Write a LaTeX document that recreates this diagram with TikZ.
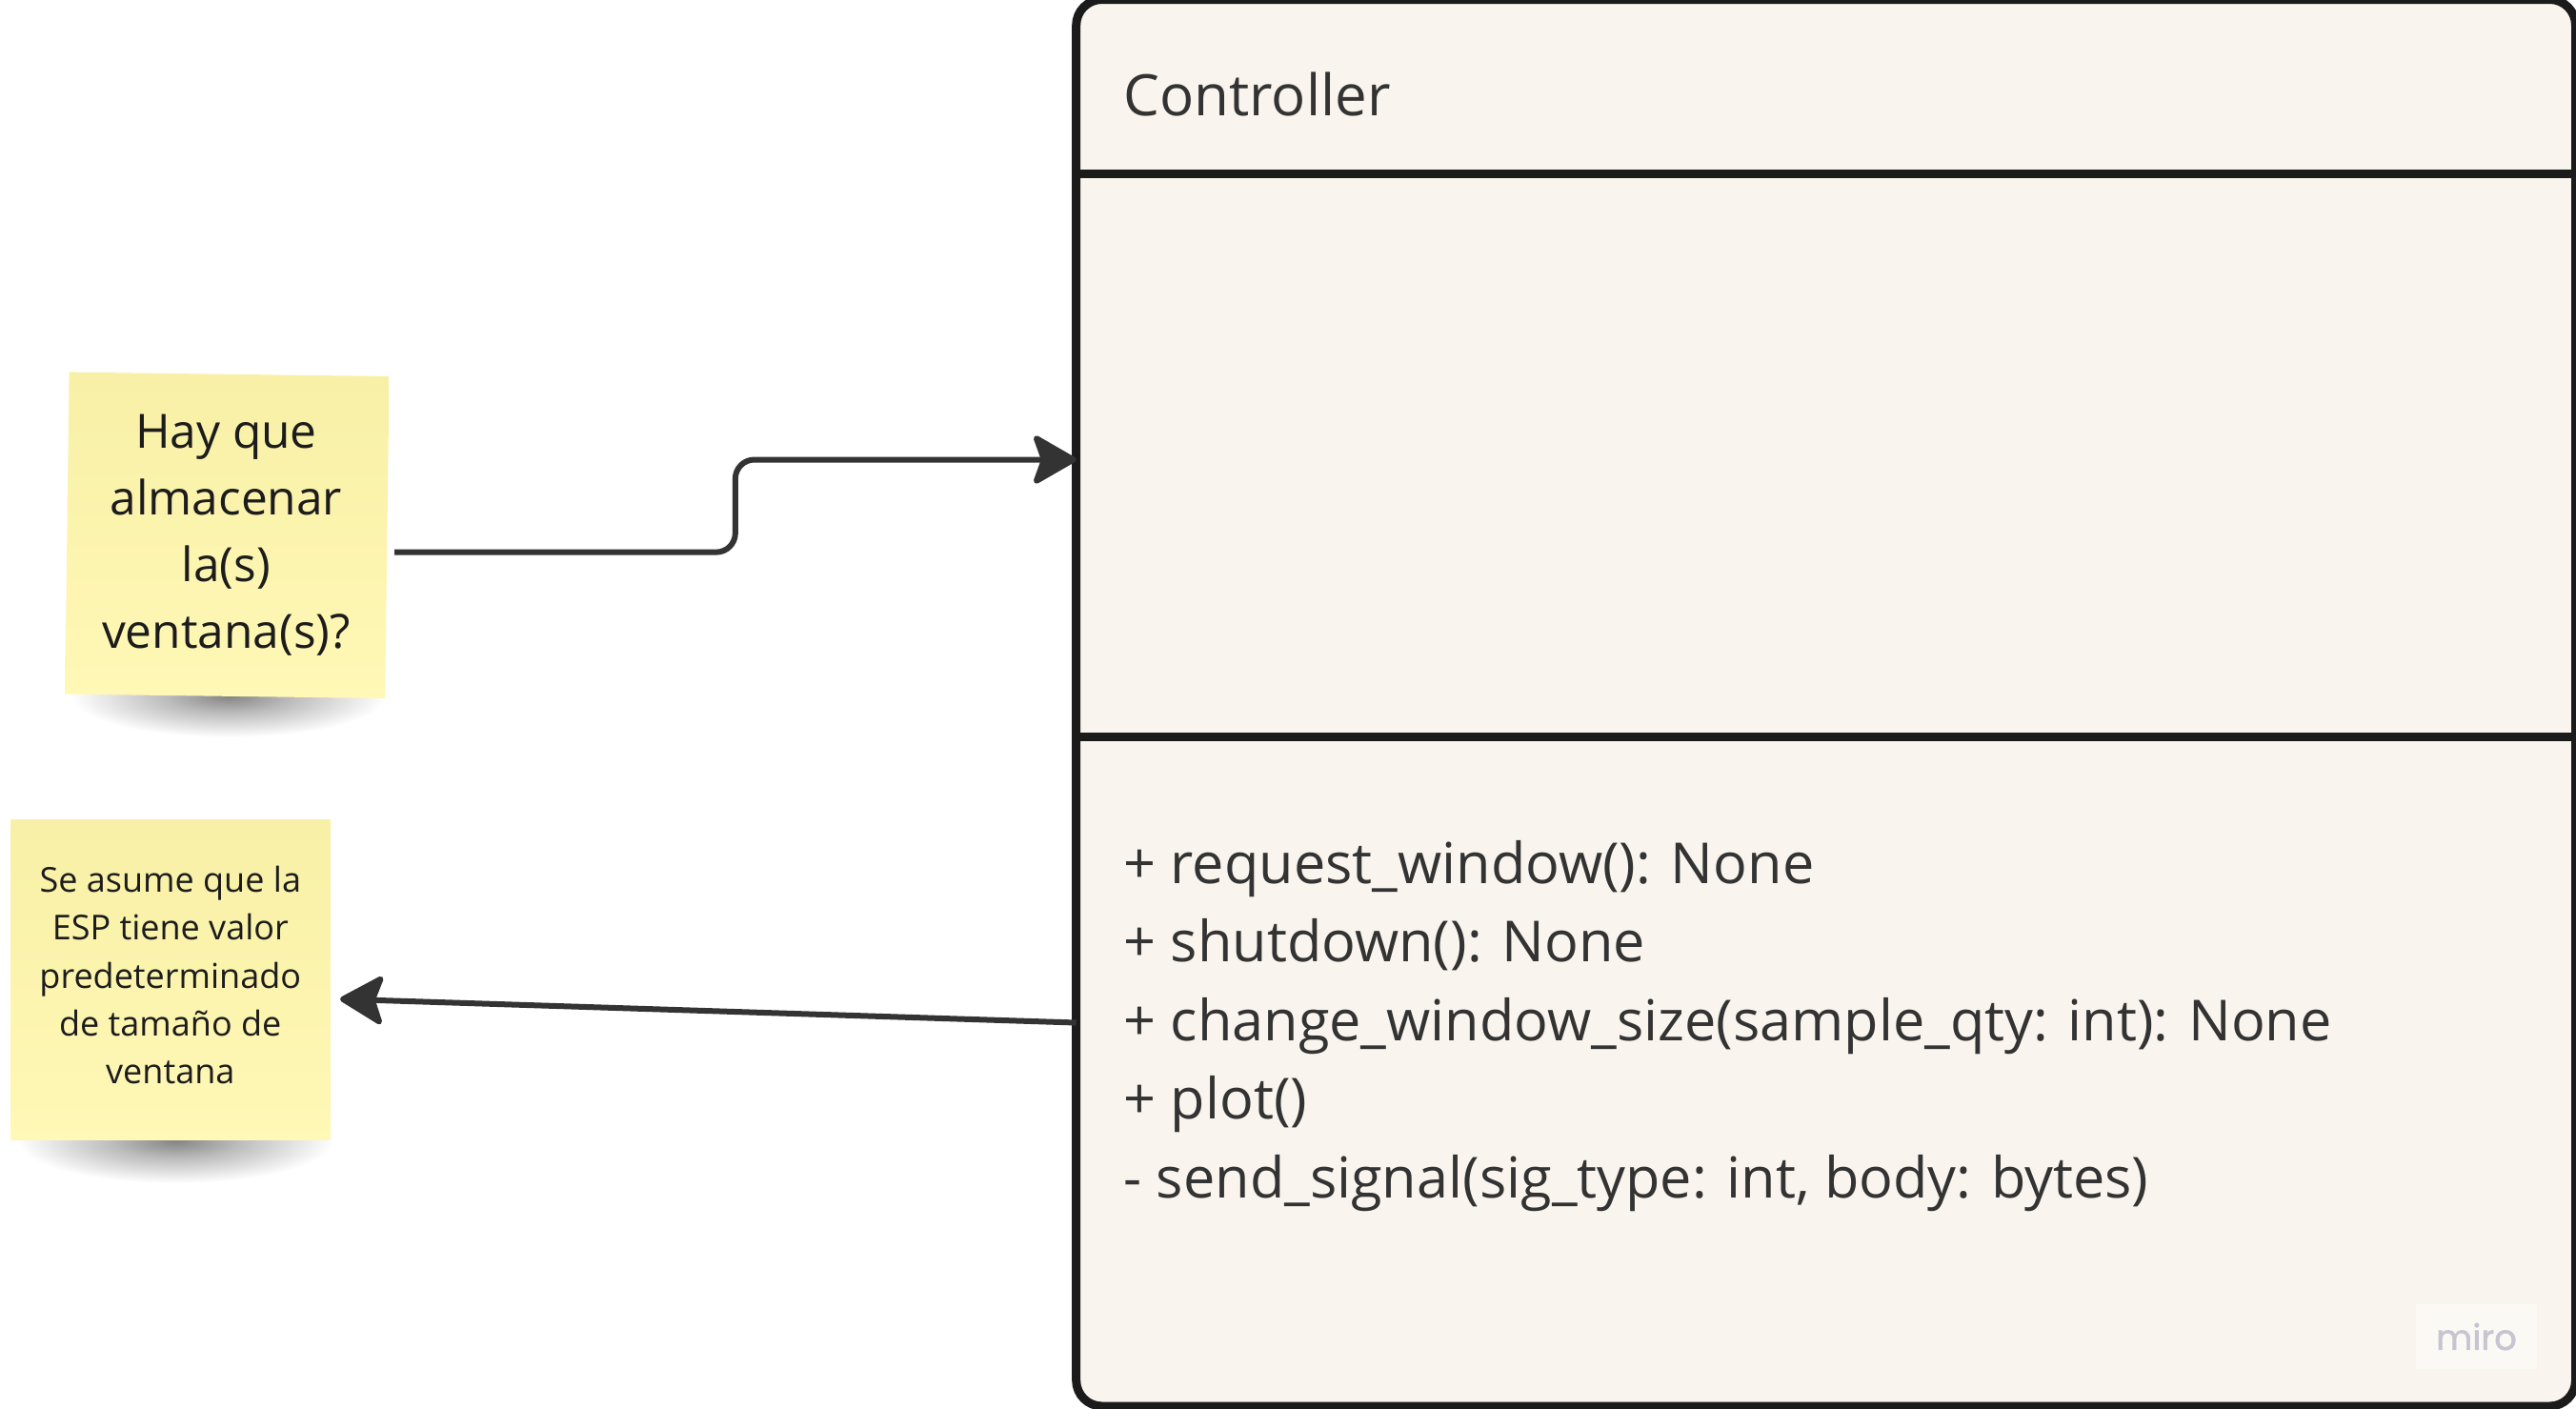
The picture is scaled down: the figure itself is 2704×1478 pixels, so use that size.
\documentclass[tikz,border=0pt]{standalone}
\usepackage{fontspec}
\setmainfont{Open Sans}
\newfontfamily\mirofont{Poppins}[FakeBold=1.5]
\usetikzlibrary{arrows.meta,calc}
\definecolor{boxfill}{HTML}{F9F5EE}
\definecolor{boxline}{HTML}{1B1B1B}
\definecolor{txt}{HTML}{333333}
\definecolor{notetxt}{HTML}{1C1C1C}
\definecolor{noteA}{HTML}{F8F0A6}
\definecolor{noteB}{HTML}{FFF8B6}
\definecolor{arrowc}{HTML}{333333}
\definecolor{shc}{HTML}{858585}
\definecolor{mirobg}{HTML}{FBF9F4}
\definecolor{mirotxt}{HTML}{C8C5D2}
\pgfdeclareradialshading{noteshadow}{\pgfpoint{0bp}{0bp}}{color(0bp)=(shc); color(10bp)=(shc!55!white); color(25bp)=(white); color(50bp)=(white)}
\begin{document}
\begin{tikzpicture}[x=0.5pt,y=-0.5pt,
  classbox/.style={draw=boxline, line width=4.5pt, fill=boxfill, rounded corners=13.5pt, inner sep=0pt, outer sep=0pt},
  divider/.style={draw=boxline, line width=4.5pt},
  classtext/.style={anchor=base west, inner sep=0pt, text=txt, font=\fontsize{30}{36}\selectfont},
  methodtext/.style={classtext, font=\fontsize{29.7}{36}\selectfont},
  note/.style={top color=noteA, bottom color=noteB, inner sep=0pt, outer sep=0pt},
  notetext/.style={inner sep=0pt, align=center, text=notetxt},
  conn/.style={draw=arrowc, line width=3pt, -{Stealth[length=25pt, width=28.5pt, inset=5pt, round]}},
  wmark/.style={fill=mirobg, text=mirotxt, inner sep=0pt, font=\mirofont\fontsize{18.5}{20}\selectfont}
]
\useasboundingbox (0,0) rectangle (2704,1478);
\fill[white] (0,0) rectangle (2704,1478);

% shadows of the sticky notes
\shade[shading=noteshadow] (75,688) rectangle (405,774);
\shade[shading=noteshadow] (18,1154) rectangle (350,1242);

% class box
\node[classbox, minimum width=786.9pt, minimum height=738.25pt] (ctrl) at (1916.6,737.75) {};
\draw[divider] (ctrl.west |- 0,182) -- (ctrl.east |- 0,182);
\draw[divider] (ctrl.west |- 0,773) -- (ctrl.east |- 0,773);
\node[classtext] (title) at (1179,121.7) {Controller};
\node[methodtext] (m1) at (1179,927) {+ request\_window(): None};
\node[methodtext] (m2) at (1179,1009.5) {+ shutdown(): None};
\node[methodtext] (m3) at (1179,1092) {+ change\_window\_size(sample\_qty: int): None};
\node[methodtext] (m4) at (1179,1174.5) {+ plot()};
\node[methodtext] (m5) at (1179,1257) {- send\_signal(sig\_type: int, body: bytes)};

% sticky notes
\node[note, rotate=-0.75, minimum width=168pt, minimum height=169pt] (n1) at (238.4,561.8) {};
\node[notetext, font=\fontsize{24.8}{35}\selectfont] (t1) at ($(n1.center)+(-1,0)$)
  {Hay que\\almacenar\\la(s)\\ventana(s)?};
\node[note, minimum width=167.5pt, minimum height=168pt] (n2) at (178.8,1028) {};
\node[notetext, font=\fontsize{18}{25.2}\selectfont] (t2) at ($(n2.center)+(0,-4.5)$)
  {Se asume que la\\ESP tiene valor\\predeterminado\\de tamaño de\\ventana};

% connectors
\coordinate (a1s) at (414,579.6);
\coordinate (a1e) at (ctrl.west |- 0,482.5);
\draw[conn, rounded corners=10pt] (a1s) -| ($(a1s)!.5!(a1e)$) |- (a1e);
\coordinate (a2s) at (ctrl.west |- 0,1073.5);
\coordinate (a2e) at (357,1048.7);
\draw[conn] (a2s) -- (a2e);

% watermark
\node[wmark, minimum width=63.5pt, minimum height=34pt] (wm) at (2599.5,1403) {miro};
\end{tikzpicture}
\end{document}
